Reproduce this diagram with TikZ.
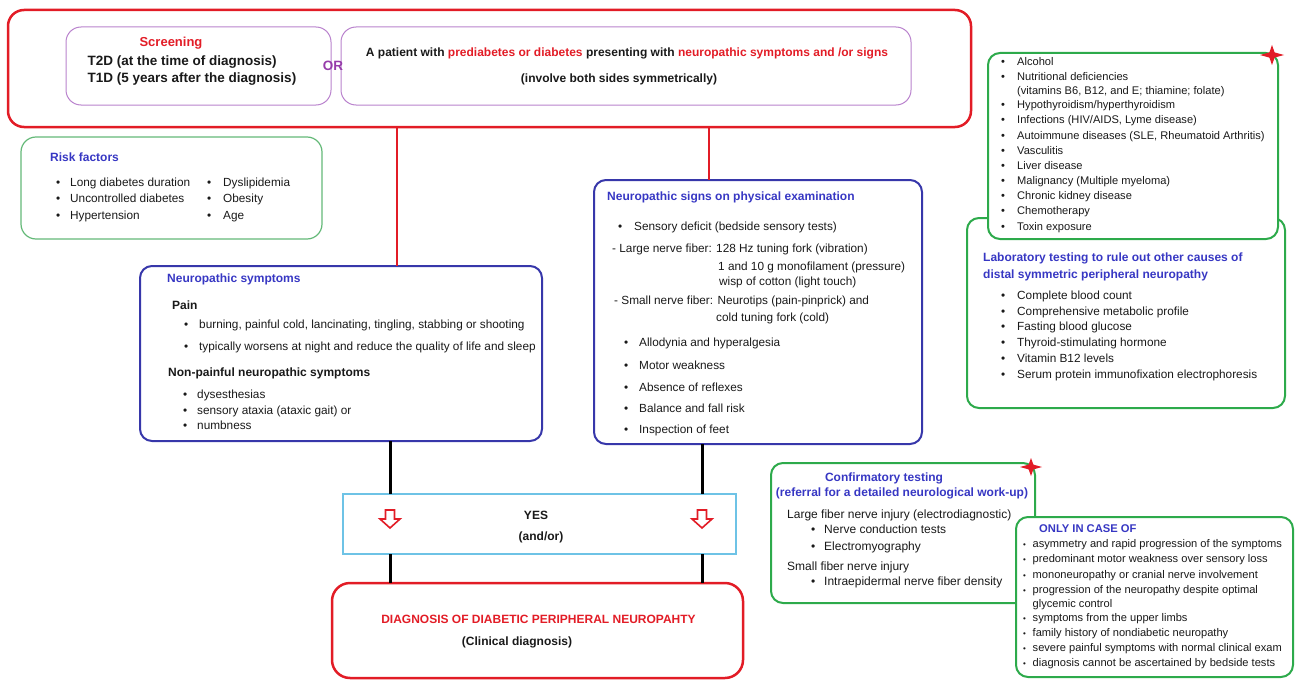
\documentclass[tikz,border=0pt]{standalone}
\usepackage{fontspec}
\setmainfont{Liberation Sans}
\usetikzlibrary{calc}
\definecolor{dred}{RGB}{226,28,38}
\definecolor{lav}{RGB}{185,130,205}
\definecolor{orp}{RGB}{150,60,170}
\definecolor{grn}{RGB}{45,170,75}
\definecolor{lgrn}{RGB}{100,185,120}
\definecolor{bbord}{RGB}{55,55,170}
\definecolor{btxt}{RGB}{55,55,195}
\definecolor{cyanb}{RGB}{110,195,230}
\definecolor{txtc}{RGB}{25,25,25}
\newcommand\bl[2]{\makebox[#1][l]{\textbullet}#2}
\newcommand\sbl[2]{\makebox[#1][l]{\fontsize{8}{8}\selectfont\textbullet}#2}
\begin{document}
\begin{tikzpicture}[x=1pt,y=-1pt,
  anybox/.style={inner sep=0pt, outer sep=0pt},
  redbox/.style={anybox, draw=dred, line width=2.5pt, rounded corners=16pt},
  lavbox/.style={anybox, draw=lav, line width=1pt, rounded corners=15pt},
  lgbox/.style={anybox, draw=lgrn, line width=1.2pt, rounded corners=15pt},
  gbox/.style={anybox, draw=grn, line width=2pt, rounded corners=12pt},
  bbox/.style={anybox, draw=bbord, line width=2pt, rounded corners=12pt},
  cybox/.style={anybox, draw=cyanb, line width=1.5pt},
  txt/.style={anchor=west, inner sep=0pt, text height=1.5ex, text depth=.25ex, text=txtc, font=\fontsize{11.8}{14}\selectfont},
  stxt/.style={txt, font=\fontsize{11.1}{13}\selectfont},
  ctxt/.style={txt, anchor=center},
  ttl/.style={txt, text=btxt, font=\bfseries\fontsize{12}{14}\selectfont},
  bld/.style={txt, font=\bfseries\fontsize{12}{14}\selectfont},
  redln/.style={draw=dred, line width=2pt},
  blkln/.style={draw=black, line width=3pt},
  openarrow/.style={draw=dred, line width=1.6pt, fill=white, line join=miter},
  starsty/.style={fill=dred, draw=none}]
\useasboundingbox (0,0) rectangle (1299,693);

% ---------- top block ----------
\node[redbox, minimum width=963pt, minimum height=117pt] (top) at (489.5,68.5) {};
\node[lavbox, minimum width=265pt, minimum height=78pt] (screen) at (198.5,66) {};
\node[lavbox, minimum width=570pt, minimum height=78pt] (patient) at (626,66) {};
\node[ctxt, text=dred, font=\bfseries\fontsize{13}{15}\selectfont] (scrt) at (171,43) {Screening};
\node[txt, font=\bfseries\fontsize{13.5}{16}\selectfont] (t2d) at (87.5,62) {T2D (at the time of diagnosis)};
\node[txt, font=\bfseries\fontsize{13.5}{16}\selectfont] (t1d) at (87.5,79) {T1D (5 years after the diagnosis)};
\node[ctxt, text=orp, font=\bfseries\fontsize{13.5}{16}\selectfont] (or) at (333,67) {OR};
\node[bld, anchor=center] (pat) at (627,53) {A patient with \textcolor{dred}{prediabetes or diabetes} presenting with \textcolor{dred}{neuropathic symptoms and /or signs}};
\node[bld, anchor=center] (inv) at (619,79) {(involve both sides symmetrically)};

% ---------- risk factors ----------
\node[lgbox, minimum width=301pt, minimum height=102pt] (risk) at (171.5,188) {};
\node[ttl] (riskt) at (50,158) {Risk factors};
\node[txt] (r1) at (56,183) {\bl{14pt}{Long diabetes duration}};
\node[txt] (r2) at (56,199) {\bl{14pt}{Uncontrolled diabetes}};
\node[txt] (r3) at (56,216) {\bl{14pt}{Hypertension}};
\node[txt] (r4) at (207,183) {\bl{16pt}{Dyslipidemia}};
\node[txt] (r5) at (207,199) {\bl{16pt}{Obesity}};
\node[txt] (r6) at (207,216) {\bl{16pt}{Age}};

% ---------- neuropathic symptoms ----------
\node[bbox, minimum width=402pt, minimum height=175pt] (symp) at (341,353.5) {};
\node[ttl] (sympt) at (167,279) {Neuropathic symptoms};
\node[bld] (pain) at (172,306) {Pain};
\node[txt] (s1) at (184,325) {\bl{15pt}{burning, painful cold, lancinating, tingling, stabbing or shooting}};
\node[txt] (s2) at (184,347) {\bl{15pt}{typically worsens at night and reduce the quality of life and sleep}};
\node[bld] (nonp) at (168,373) {Non-painful neuropathic symptoms};
\node[txt] (s3) at (183,395) {\bl{14pt}{dysesthesias}};
\node[txt] (s4) at (183,411) {\bl{14pt}{sensory ataxia (ataxic gait) or}};
\node[txt] (s5) at (183,426) {\bl{14pt}{numbness}};

% ---------- neuropathic signs ----------
\node[bbox, minimum width=328pt, minimum height=264pt] (signs) at (758,312) {};
\node[ttl] (signt) at (607,197) {Neuropathic signs on physical examination};
\node[txt] (g1) at (618,227) {\bl{16pt}{Sensory deficit (bedside sensory tests)}};
\node[txt] (g2) at (612,249) {- Large nerve fiber: 128 Hz tuning fork (vibration)};
\node[txt] (g3) at (718,267) {1 and 10 g monofilament (pressure)};
\node[txt] (g4) at (719,282) {wisp of cotton (light touch)};
\node[txt] (g5) at (614,301) {- Small nerve fiber: Neurotips (pain-pinprick) and};
\node[txt] (g6) at (716,318) {cold tuning fork (cold)};
\node[txt] (g7) at (624,343) {\bl{15pt}{Allodynia and hyperalgesia}};
\node[txt] (g8) at (624,366) {\bl{15pt}{Motor weakness}};
\node[txt] (g9) at (624,388) {\bl{15pt}{Absence of reflexes}};
\node[txt] (g10) at (624,409) {\bl{15pt}{Balance and fall risk}};
\node[txt] (g11) at (624,430) {\bl{15pt}{Inspection of feet}};

% ---------- YES box ----------
\node[cybox, minimum width=393pt, minimum height=60pt] (yes) at (539.5,524) {};
\node[bld, anchor=center] (yest) at (536,516) {YES};
\node[bld, anchor=center] (andor) at (541,537) {(and/or)};
\coordinate (arL) at (390,519);
\coordinate (arR) at (702,519);
\draw[openarrow, shift={(arL)}] (-4.5,-9) -- (4.5,-9) -- (4.5,0) -- (10,0) -- (0,9) -- (-10,0) -- (-4.5,0) -- cycle;
\draw[openarrow, shift={(arR)}] (-4.5,-9) -- (4.5,-9) -- (4.5,0) -- (10,0) -- (0,9) -- (-10,0) -- (-4.5,0) -- cycle;

% ---------- diagnosis ----------
\node[redbox, rounded corners=18pt, minimum width=411pt, minimum height=95pt] (diag) at (537.5,630.5) {};
\node[bld, anchor=center, text=dred] (diagt) at (538.5,620) {DIAGNOSIS OF DIABETIC PERIPHERAL NEUROPAHTY};
\node[bld, anchor=center] (clin) at (517,642) {(Clinical diagnosis)};

% ---------- laboratory / causes ----------
\node[gbox, minimum width=318pt, minimum height=190pt] (lab) at (1126,313) {};
\node[gbox, fill=white, minimum width=290pt, minimum height=186pt] (causes) at (1133,146) {};
\node[stxt] (c1) at (1001,62) {\bl{16pt}{Alcohol}};
\node[stxt] (c2) at (1001,77) {\bl{16pt}{Nutritional deficiencies}};
\node[stxt] (c2b) at (1017,91) {(vitamins B6, B12, and E; thiamine; folate)};
\node[stxt] (c3) at (1001,105) {\bl{16pt}{Hypothyroidism/hyperthyroidism}};
\node[stxt] (c4) at (1001,120) {\bl{16pt}{Infections (HIV/AIDS, Lyme disease)}};
\node[stxt] (c5) at (1001,136) {\bl{16pt}{Autoimmune diseases (SLE, Rheumatoid Arthritis)}};
\node[stxt] (c6) at (1001,151) {\bl{16pt}{Vasculitis}};
\node[stxt] (c7) at (1001,166) {\bl{16pt}{Liver disease}};
\node[stxt] (c8) at (1001,181) {\bl{16pt}{Malignancy (Multiple myeloma)}};
\node[stxt] (c9) at (1001,196) {\bl{16pt}{Chronic kidney disease}};
\node[stxt] (c10) at (1001,211) {\bl{16pt}{Chemotherapy}};
\node[stxt] (c11) at (1001,227) {\bl{16pt}{Toxin exposure}};
\fill[starsty, shift={(1272,55)}] (0,-10) -- (2.6,-2.6) -- (12,0) -- (2.6,2.6) -- (0,10) -- (-2.6,2.6) -- (-12,0) -- (-2.6,-2.6) -- cycle;

\node[ttl] (labt1) at (983,258) {Laboratory testing to rule out other causes of};
\node[ttl] (labt2) at (983,275) {distal symmetric peripheral neuropathy};
\node[txt] (l1) at (1001,296) {\bl{16pt}{Complete blood count}};
\node[txt] (l2) at (1001,312) {\bl{16pt}{Comprehensive metabolic profile}};
\node[txt] (l3) at (1001,327) {\bl{16pt}{Fasting blood glucose}};
\node[txt] (l4) at (1001,343) {\bl{16pt}{Thyroid-stimulating hormone}};
\node[txt] (l5) at (1001,359) {\bl{16pt}{Vitamin B12 levels}};
\node[txt] (l6) at (1001,375) {\bl{16pt}{Serum protein immunofixation electrophoresis}};

% ---------- confirmatory / only in case ----------
\node[gbox, minimum width=264pt, minimum height=140pt] (conf) at (903,533) {};
\node[gbox, fill=white, minimum width=277pt, minimum height=160pt] (only) at (1154.5,597) {};
\fill[starsty, shift={(1031,467)}] (0,-9) -- (2.4,-2.4) -- (11,0) -- (2.4,2.4) -- (0,9) -- (-2.4,2.4) -- (-11,0) -- (-2.4,-2.4) -- cycle;
\node[ttl, anchor=center] (conft1) at (884,478) {Confirmatory testing};
\node[ttl, anchor=center] (conft2) at (902,493) {(referral for a detailed neurological work-up)};
\node[txt, font=\fontsize{12}{14}\selectfont] (f1) at (787,515) {Large fiber nerve injury (electrodiagnostic)};
\node[txt, font=\fontsize{12}{14}\selectfont] (f2) at (811,530) {\bl{13pt}{Nerve conduction tests}};
\node[txt, font=\fontsize{12}{14}\selectfont] (f3) at (811,547) {\bl{13pt}{Electromyography}};
\node[txt, font=\fontsize{12}{14}\selectfont] (f4) at (787,567) {Small fiber nerve injury};
\node[txt, font=\fontsize{12}{14}\selectfont] (f5) at (811,582) {\bl{13pt}{Intraepidermal nerve fiber density}};

\node[ttl, font=\bfseries\fontsize{11.2}{13}\selectfont] (onlyt) at (1039,529) {ONLY IN CASE OF};
\node[stxt] (o1) at (1023,544) {\sbl{9.5pt}{asymmetry and rapid progression of the symptoms}};
\node[stxt] (o2) at (1023,559) {\sbl{9.5pt}{predominant motor weakness over sensory loss}};
\node[stxt] (o3) at (1023,575) {\sbl{9.5pt}{mononeuropathy or cranial nerve involvement}};
\node[stxt] (o4) at (1023,590) {\sbl{9.5pt}{progression of the neuropathy despite optimal}};
\node[stxt] (o4b) at (1032.5,604) {glycemic control};
\node[stxt] (o5) at (1023,618) {\sbl{9.5pt}{symptoms from the upper limbs}};
\node[stxt] (o6) at (1023,633) {\sbl{9.5pt}{family history of nondiabetic neuropathy}};
\node[stxt] (o7) at (1023,648) {\sbl{9.5pt}{severe painful symptoms with normal clinical exam}};
\node[stxt] (o8) at (1023,663) {\sbl{9.5pt}{diagnosis cannot be ascertained by bedside tests}};

% ---------- connectors ----------
\coordinate (xL) at (397,0);
\coordinate (xR) at (709,0);
\coordinate (bL) at (390,0);
\coordinate (bR) at (702,0);
\draw[redln] (top.south -| xL) -- (symp.north -| xL);
\draw[redln] (top.south -| xR) -- (signs.north -| xR);
\draw[blkln] (symp.south -| bL) -- (yes.north -| bL);
\draw[blkln] (signs.south -| bR) -- (yes.north -| bR);
\draw[blkln] (yes.south -| bL) -- (diag.north -| bL);
\draw[blkln] (yes.south -| bR) -- (diag.north -| bR);
\end{tikzpicture}
\end{document}
